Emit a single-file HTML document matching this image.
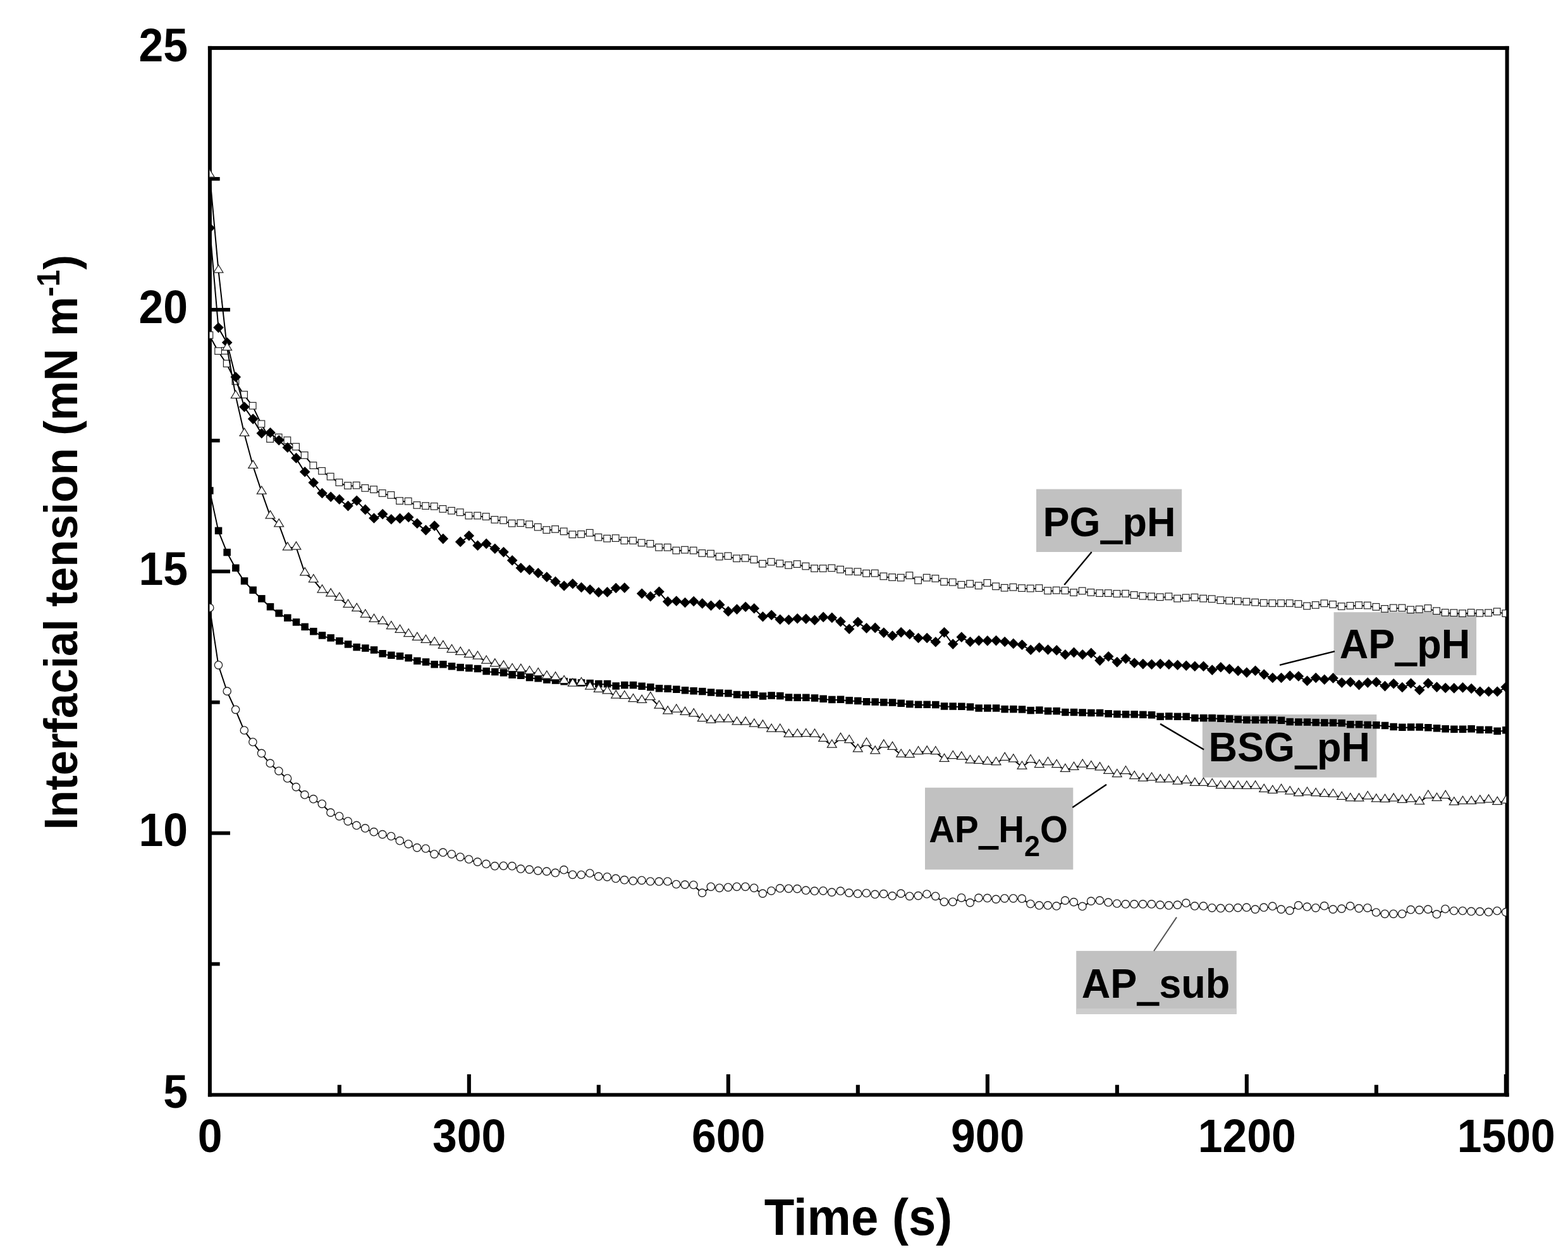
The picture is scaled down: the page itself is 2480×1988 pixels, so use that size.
<!DOCTYPE html>
<html lang="en"><head><meta charset="utf-8"><title>Interfacial tension vs time</title>
<style>
html,body{margin:0;padding:0;background:#fff;}
body{width:2480px;height:1988px;overflow:hidden;}
svg{display:block;}
text{font-family:"Liberation Sans",Arial,Helvetica,sans-serif;font-weight:bold;fill:#000;}
.tk{font-size:69.7px;}
.ln{fill:none;stroke:#000;stroke-width:2.0;stroke-linejoin:round;}
.osq{fill:#fff;stroke:#222;stroke-width:1.2;}
.tri{fill:#fff;stroke:#222;stroke-width:1.25;stroke-linejoin:miter;}
.cir{fill:#fff;stroke:#222;stroke-width:1.35;}
.blk{fill:#000;}
.us{stroke:#000;stroke-width:3.4px;stroke-linejoin:miter;}
</style></head><body>
<svg width="2480" height="1988" viewBox="0 0 2480 1988" role="img" aria-label="Interfacial tension versus time for PG_pH, AP_pH, BSG_pH, AP_H2O and AP_sub">
<rect x="0" y="0" width="2480" height="1988" fill="#fff"/>
<g fill="#000">
<rect x="328.90" y="72.90" width="6.00" height="1661.55"/>
<rect x="2380.60" y="72.90" width="6.00" height="1661.55"/>
<rect x="328.90" y="72.90" width="2057.70" height="6.00"/>
<rect x="328.90" y="1728.65" width="2057.70" height="5.80"/>
<rect x="738.79" y="1699.05" width="6.10" height="32.50"/>
<rect x="1148.79" y="1699.05" width="6.10" height="32.50"/>
<rect x="1558.79" y="1699.05" width="6.10" height="32.50"/>
<rect x="1968.79" y="1699.05" width="6.10" height="32.50"/>
<rect x="2378.79" y="1699.05" width="6.10" height="32.50"/>
<rect x="533.79" y="1715.75" width="6.10" height="15.80"/>
<rect x="943.79" y="1715.75" width="6.10" height="15.80"/>
<rect x="1353.79" y="1715.75" width="6.10" height="15.80"/>
<rect x="1763.79" y="1715.75" width="6.10" height="15.80"/>
<rect x="2173.79" y="1715.75" width="6.10" height="15.80"/>
<rect x="331.90" y="1314.76" width="32.10" height="5.75"/>
<rect x="331.90" y="900.85" width="32.10" height="5.75"/>
<rect x="331.90" y="486.94" width="32.10" height="5.75"/>
<rect x="331.90" y="1521.72" width="15.80" height="5.75"/>
<rect x="331.90" y="1107.81" width="15.80" height="5.75"/>
<rect x="331.90" y="693.89" width="15.80" height="5.75"/>
<rect x="331.90" y="279.98" width="15.80" height="5.75"/>
</g>
<g class="tk" text-anchor="middle">
<text transform="translate(332.2,1821.5) scale(1,1.06)">0</text>
<text transform="translate(742.2,1821.5) scale(1,1.06)">300</text>
<text transform="translate(1152.2,1821.5) scale(1,1.06)">600</text>
<text transform="translate(1562.2,1821.5) scale(1,1.06)">900</text>
<text transform="translate(1972.2,1821.5) scale(1,1.06)">1200</text>
<text transform="translate(2382.2,1821.5) scale(1,1.06)">1500</text>
</g>
<g class="tk" text-anchor="end">
<text transform="translate(297.0,1752.4) scale(1,1.06)">5</text>
<text transform="translate(297.0,1338.4) scale(1,1.06)">10</text>
<text transform="translate(297.0,924.5) scale(1,1.06)">15</text>
<text transform="translate(297.0,510.6) scale(1,1.06)">20</text>
<text transform="translate(297.0,96.7) scale(1,1.06)">25</text>
</g>
<text transform="translate(1357.5,1952.5) scale(1,1.04)" text-anchor="middle" font-size="78">Time (s)</text>
<text transform="translate(122.4,1312.5) rotate(-90) scale(1,1.04)" text-anchor="start" font-size="70.6">Interfacial tension (mN m<tspan font-size="48" dy="-27.5">-1</tspan><tspan dy="27.5">)</tspan></text>
<rect x="1639.0" y="773.6" width="230.2" height="99.4" fill="#c1c1c1"/>
<text transform="translate(1649.6,848.0) scale(1,1.04)" font-size="63">PG<tspan class="us" dx="1.7" dy="2.6" textLength="31.6" lengthAdjust="spacingAndGlyphs">_</tspan><tspan dx="1.7" dy="-2.6">pH</tspan></text>
<rect x="2109.6" y="968.2" width="225.5" height="99.6" fill="#c1c1c1"/>
<text transform="translate(2118.7,1041.4) scale(1,1.04)" font-size="63">AP<tspan class="us" dx="1.7" dy="2.6" textLength="31.6" lengthAdjust="spacingAndGlyphs">_</tspan><tspan dx="1.7" dy="-2.6">pH</tspan></text>
<rect x="1901.8" y="1130.0" width="275.5" height="99.6" fill="#c1c1c1"/>
<text transform="translate(1911.5,1203.9) scale(1,1.04)" font-size="63">BSG<tspan class="us" dx="1.7" dy="2.6" textLength="31.6" lengthAdjust="spacingAndGlyphs">_</tspan><tspan dx="1.7" dy="-2.6">pH</tspan></text>
<rect x="1463.0" y="1245.7" width="234.3" height="129.6" fill="#c1c1c1"/>
<text transform="translate(1469.3,1332.0) scale(1,1.04)" font-size="56.5">AP<tspan class="us" dx="1.7" dy="2.6" textLength="28.0" lengthAdjust="spacingAndGlyphs">_</tspan><tspan dx="1.7" dy="-2.6">H</tspan><tspan font-size="45" dy="21">2</tspan><tspan dy="-21">O</tspan></text>
<rect x="1702.2" y="1503.9" width="253.5" height="100.0" fill="#c1c1c1"/>
<rect x="1702.2" y="1595" width="253.5" height="8.9" fill="#cdcdcd"/>
<text transform="translate(1710.7,1578.0) scale(1,1.04)" font-size="63">AP<tspan class="us" dx="1.7" dy="2.6" textLength="31.6" lengthAdjust="spacingAndGlyphs">_</tspan><tspan dx="1.7" dy="-2.6">sub</tspan></text>
<g stroke="#000" stroke-width="2.4" stroke-linecap="butt">
<line x1="1726.6" y1="873" x2="1683.3" y2="925"/>
<line x1="2111" y1="1030.2" x2="2024" y2="1051.8"/>
<line x1="1835.1" y1="1144.9" x2="1904.1" y2="1185.5"/>
<line x1="1696.3" y1="1277" x2="1750" y2="1240.8"/>
</g>
<line x1="1861" y1="1450.6" x2="1825" y2="1504" stroke="#555" stroke-width="2"/>
<defs><clipPath id="pc"><rect x="331.50" y="75.90" width="2050.80" height="1655.65"/></clipPath></defs>
<g clip-path="url(#pc)">
<polyline class="ln" points="331.4,530.7 345.1,555.8 358.7,575.7 372.4,603.6 386.1,624.8 399.7,642.4 413.4,671.1 427.1,694.8 440.7,692.4 454.4,697.0 468.1,707.2 481.7,720.7 495.4,736.8 509.1,745.5 522.7,754.4 536.4,763.7 550.1,768.7 563.7,768.3 577.4,772.6 591.1,774.8 604.7,780.7 618.4,783.6 632.1,792.8 645.7,793.4 659.4,799.6 673.1,800.8 686.7,801.5 700.4,805.6 714.1,808.4 727.7,810.9 741.4,816.2 755.1,816.2 768.7,817.7 782.4,822.6 796.1,823.6 809.7,828.4 823.4,828.0 837.1,830.0 850.7,834.3 864.4,838.8 878.1,837.6 891.7,841.1 905.4,846.0 919.1,845.6 932.7,843.4 946.4,850.4 960.1,852.4 973.7,851.8 987.4,855.7 1001.1,855.7 1014.7,859.2 1028.4,860.6 1042.1,866.4 1055.7,866.4 1069.4,871.3 1083.1,870.3 1096.7,871.3 1110.4,875.6 1124.1,876.3 1137.7,881.0 1151.4,880.0 1165.1,883.9 1178.7,883.5 1192.4,885.8 1206.1,892.3 1219.7,889.3 1233.4,891.9 1247.1,894.6 1260.7,892.8 1274.4,896.2 1288.1,899.7 1301.7,899.7 1315.4,899.1 1329.1,901.4 1342.7,904.5 1356.4,904.9 1370.1,907.5 1383.7,907.3 1397.4,912.1 1411.1,913.7 1424.7,914.3 1438.4,910.8 1452.1,918.6 1465.7,914.3 1479.4,915.6 1493.1,920.9 1506.7,921.5 1520.4,925.5 1534.1,923.9 1547.7,926.9 1561.4,922.6 1575.1,928.0 1588.7,930.4 1602.4,929.4 1616.1,930.8 1629.7,931.3 1643.4,930.8 1657.1,934.9 1670.7,934.3 1684.4,934.7 1698.1,937.8 1711.7,935.2 1725.4,937.6 1739.1,938.8 1752.7,938.8 1766.4,939.7 1780.1,939.5 1793.7,941.7 1807.4,943.4 1821.1,944.0 1834.7,945.0 1848.4,944.0 1862.1,947.3 1875.7,946.0 1889.4,945.4 1903.1,947.3 1916.7,947.9 1930.4,949.9 1944.1,950.7 1957.7,951.5 1971.4,952.3 1985.1,953.3 1998.7,954.3 2012.4,954.7 2026.1,954.7 2039.7,954.7 2053.4,955.8 2067.1,959.1 2080.7,957.6 2094.4,954.9 2108.1,956.6 2121.7,959.7 2135.4,958.6 2149.1,957.8 2162.7,958.2 2176.4,960.5 2190.1,963.6 2203.7,962.1 2217.4,962.1 2231.1,965.0 2244.7,964.4 2258.4,962.6 2272.1,966.9 2285.7,969.5 2299.4,969.9 2313.1,970.8 2326.7,969.5 2340.4,970.4 2354.1,969.9 2367.7,967.9 2381.4,970.8"/>
<rect class="osq" x="350.4" y="549.5" width="10.60" height="10.60"/>
<rect class="osq" x="326.1" y="524.7" width="10.60" height="10.60"/>
<rect class="osq" x="339.8" y="549.8" width="10.60" height="10.60"/>
<rect class="osq" x="353.4" y="569.7" width="10.60" height="10.60"/>
<rect class="osq" x="367.1" y="597.6" width="10.60" height="10.60"/>
<rect class="osq" x="380.8" y="618.8" width="10.60" height="10.60"/>
<rect class="osq" x="394.4" y="636.4" width="10.60" height="10.60"/>
<rect class="osq" x="408.1" y="665.1" width="10.60" height="10.60"/>
<rect class="osq" x="421.8" y="688.8" width="10.60" height="10.60"/>
<rect class="osq" x="435.4" y="686.4" width="10.60" height="10.60"/>
<rect class="osq" x="449.1" y="691.0" width="10.60" height="10.60"/>
<rect class="osq" x="462.8" y="701.2" width="10.60" height="10.60"/>
<rect class="osq" x="476.4" y="714.7" width="10.60" height="10.60"/>
<rect class="osq" x="490.1" y="730.8" width="10.60" height="10.60"/>
<rect class="osq" x="503.8" y="739.5" width="10.60" height="10.60"/>
<rect class="osq" x="517.4" y="748.4" width="10.60" height="10.60"/>
<rect class="osq" x="531.1" y="757.7" width="10.60" height="10.60"/>
<rect class="osq" x="544.8" y="762.7" width="10.60" height="10.60"/>
<rect class="osq" x="558.4" y="762.3" width="10.60" height="10.60"/>
<rect class="osq" x="572.1" y="766.6" width="10.60" height="10.60"/>
<rect class="osq" x="585.8" y="768.8" width="10.60" height="10.60"/>
<rect class="osq" x="599.4" y="774.7" width="10.60" height="10.60"/>
<rect class="osq" x="613.1" y="777.6" width="10.60" height="10.60"/>
<rect class="osq" x="626.8" y="786.8" width="10.60" height="10.60"/>
<rect class="osq" x="640.4" y="787.4" width="10.60" height="10.60"/>
<rect class="osq" x="654.1" y="793.6" width="10.60" height="10.60"/>
<rect class="osq" x="667.8" y="794.8" width="10.60" height="10.60"/>
<rect class="osq" x="681.4" y="795.5" width="10.60" height="10.60"/>
<rect class="osq" x="695.1" y="799.6" width="10.60" height="10.60"/>
<rect class="osq" x="708.8" y="802.4" width="10.60" height="10.60"/>
<rect class="osq" x="722.4" y="804.9" width="10.60" height="10.60"/>
<rect class="osq" x="736.1" y="810.2" width="10.60" height="10.60"/>
<rect class="osq" x="749.8" y="810.2" width="10.60" height="10.60"/>
<rect class="osq" x="763.4" y="811.7" width="10.60" height="10.60"/>
<rect class="osq" x="777.1" y="816.6" width="10.60" height="10.60"/>
<rect class="osq" x="790.8" y="817.6" width="10.60" height="10.60"/>
<rect class="osq" x="804.4" y="822.4" width="10.60" height="10.60"/>
<rect class="osq" x="818.1" y="822.0" width="10.60" height="10.60"/>
<rect class="osq" x="831.8" y="824.0" width="10.60" height="10.60"/>
<rect class="osq" x="845.4" y="828.3" width="10.60" height="10.60"/>
<rect class="osq" x="859.1" y="832.8" width="10.60" height="10.60"/>
<rect class="osq" x="872.8" y="831.6" width="10.60" height="10.60"/>
<rect class="osq" x="886.4" y="835.1" width="10.60" height="10.60"/>
<rect class="osq" x="900.1" y="840.0" width="10.60" height="10.60"/>
<rect class="osq" x="913.8" y="839.6" width="10.60" height="10.60"/>
<rect class="osq" x="927.4" y="837.4" width="10.60" height="10.60"/>
<rect class="osq" x="941.1" y="844.4" width="10.60" height="10.60"/>
<rect class="osq" x="954.8" y="846.4" width="10.60" height="10.60"/>
<rect class="osq" x="968.4" y="845.8" width="10.60" height="10.60"/>
<rect class="osq" x="982.1" y="849.7" width="10.60" height="10.60"/>
<rect class="osq" x="995.8" y="849.7" width="10.60" height="10.60"/>
<rect class="osq" x="1009.4" y="853.2" width="10.60" height="10.60"/>
<rect class="osq" x="1023.1" y="854.6" width="10.60" height="10.60"/>
<rect class="osq" x="1036.8" y="860.4" width="10.60" height="10.60"/>
<rect class="osq" x="1050.4" y="860.4" width="10.60" height="10.60"/>
<rect class="osq" x="1064.1" y="865.3" width="10.60" height="10.60"/>
<rect class="osq" x="1077.8" y="864.3" width="10.60" height="10.60"/>
<rect class="osq" x="1091.4" y="865.3" width="10.60" height="10.60"/>
<rect class="osq" x="1105.1" y="869.6" width="10.60" height="10.60"/>
<rect class="osq" x="1118.8" y="870.3" width="10.60" height="10.60"/>
<rect class="osq" x="1132.4" y="875.0" width="10.60" height="10.60"/>
<rect class="osq" x="1146.1" y="874.0" width="10.60" height="10.60"/>
<rect class="osq" x="1159.8" y="877.9" width="10.60" height="10.60"/>
<rect class="osq" x="1173.4" y="877.5" width="10.60" height="10.60"/>
<rect class="osq" x="1187.1" y="879.8" width="10.60" height="10.60"/>
<rect class="osq" x="1200.8" y="886.3" width="10.60" height="10.60"/>
<rect class="osq" x="1214.4" y="883.3" width="10.60" height="10.60"/>
<rect class="osq" x="1228.1" y="885.9" width="10.60" height="10.60"/>
<rect class="osq" x="1241.8" y="888.6" width="10.60" height="10.60"/>
<rect class="osq" x="1255.4" y="886.8" width="10.60" height="10.60"/>
<rect class="osq" x="1269.1" y="890.2" width="10.60" height="10.60"/>
<rect class="osq" x="1282.8" y="893.7" width="10.60" height="10.60"/>
<rect class="osq" x="1296.4" y="893.7" width="10.60" height="10.60"/>
<rect class="osq" x="1310.1" y="893.1" width="10.60" height="10.60"/>
<rect class="osq" x="1323.8" y="895.4" width="10.60" height="10.60"/>
<rect class="osq" x="1337.4" y="898.5" width="10.60" height="10.60"/>
<rect class="osq" x="1351.1" y="898.9" width="10.60" height="10.60"/>
<rect class="osq" x="1364.8" y="901.5" width="10.60" height="10.60"/>
<rect class="osq" x="1378.4" y="901.3" width="10.60" height="10.60"/>
<rect class="osq" x="1392.1" y="906.1" width="10.60" height="10.60"/>
<rect class="osq" x="1405.8" y="907.7" width="10.60" height="10.60"/>
<rect class="osq" x="1419.4" y="908.3" width="10.60" height="10.60"/>
<rect class="osq" x="1433.1" y="904.8" width="10.60" height="10.60"/>
<rect class="osq" x="1446.8" y="912.6" width="10.60" height="10.60"/>
<rect class="osq" x="1460.4" y="908.3" width="10.60" height="10.60"/>
<rect class="osq" x="1474.1" y="909.6" width="10.60" height="10.60"/>
<rect class="osq" x="1487.8" y="914.9" width="10.60" height="10.60"/>
<rect class="osq" x="1501.4" y="915.5" width="10.60" height="10.60"/>
<rect class="osq" x="1515.1" y="919.5" width="10.60" height="10.60"/>
<rect class="osq" x="1528.8" y="917.9" width="10.60" height="10.60"/>
<rect class="osq" x="1542.4" y="920.9" width="10.60" height="10.60"/>
<rect class="osq" x="1556.1" y="916.6" width="10.60" height="10.60"/>
<rect class="osq" x="1569.8" y="922.0" width="10.60" height="10.60"/>
<rect class="osq" x="1583.4" y="924.4" width="10.60" height="10.60"/>
<rect class="osq" x="1597.1" y="923.4" width="10.60" height="10.60"/>
<rect class="osq" x="1610.8" y="924.8" width="10.60" height="10.60"/>
<rect class="osq" x="1624.4" y="925.3" width="10.60" height="10.60"/>
<rect class="osq" x="1638.1" y="924.8" width="10.60" height="10.60"/>
<rect class="osq" x="1651.8" y="928.9" width="10.60" height="10.60"/>
<rect class="osq" x="1665.4" y="928.3" width="10.60" height="10.60"/>
<rect class="osq" x="1679.1" y="928.7" width="10.60" height="10.60"/>
<rect class="osq" x="1692.8" y="931.8" width="10.60" height="10.60"/>
<rect class="osq" x="1706.4" y="929.2" width="10.60" height="10.60"/>
<rect class="osq" x="1720.1" y="931.6" width="10.60" height="10.60"/>
<rect class="osq" x="1733.8" y="932.8" width="10.60" height="10.60"/>
<rect class="osq" x="1747.4" y="932.8" width="10.60" height="10.60"/>
<rect class="osq" x="1761.1" y="933.7" width="10.60" height="10.60"/>
<rect class="osq" x="1774.8" y="933.5" width="10.60" height="10.60"/>
<rect class="osq" x="1788.4" y="935.7" width="10.60" height="10.60"/>
<rect class="osq" x="1802.1" y="937.4" width="10.60" height="10.60"/>
<rect class="osq" x="1815.8" y="938.0" width="10.60" height="10.60"/>
<rect class="osq" x="1829.4" y="939.0" width="10.60" height="10.60"/>
<rect class="osq" x="1843.1" y="938.0" width="10.60" height="10.60"/>
<rect class="osq" x="1856.8" y="941.3" width="10.60" height="10.60"/>
<rect class="osq" x="1870.4" y="940.0" width="10.60" height="10.60"/>
<rect class="osq" x="1884.1" y="939.4" width="10.60" height="10.60"/>
<rect class="osq" x="1897.8" y="941.3" width="10.60" height="10.60"/>
<rect class="osq" x="1911.4" y="941.9" width="10.60" height="10.60"/>
<rect class="osq" x="1925.1" y="943.9" width="10.60" height="10.60"/>
<rect class="osq" x="1938.8" y="944.7" width="10.60" height="10.60"/>
<rect class="osq" x="1952.4" y="945.5" width="10.60" height="10.60"/>
<rect class="osq" x="1966.1" y="946.3" width="10.60" height="10.60"/>
<rect class="osq" x="1979.8" y="947.3" width="10.60" height="10.60"/>
<rect class="osq" x="1993.4" y="948.3" width="10.60" height="10.60"/>
<rect class="osq" x="2007.1" y="948.7" width="10.60" height="10.60"/>
<rect class="osq" x="2020.8" y="948.7" width="10.60" height="10.60"/>
<rect class="osq" x="2034.4" y="948.7" width="10.60" height="10.60"/>
<rect class="osq" x="2048.1" y="949.8" width="10.60" height="10.60"/>
<rect class="osq" x="2061.8" y="953.1" width="10.60" height="10.60"/>
<rect class="osq" x="2075.4" y="951.6" width="10.60" height="10.60"/>
<rect class="osq" x="2089.1" y="948.9" width="10.60" height="10.60"/>
<rect class="osq" x="2102.8" y="950.6" width="10.60" height="10.60"/>
<rect class="osq" x="2116.4" y="953.7" width="10.60" height="10.60"/>
<rect class="osq" x="2130.1" y="952.6" width="10.60" height="10.60"/>
<rect class="osq" x="2143.8" y="951.8" width="10.60" height="10.60"/>
<rect class="osq" x="2157.4" y="952.2" width="10.60" height="10.60"/>
<rect class="osq" x="2171.1" y="954.5" width="10.60" height="10.60"/>
<rect class="osq" x="2184.8" y="957.6" width="10.60" height="10.60"/>
<rect class="osq" x="2198.4" y="956.1" width="10.60" height="10.60"/>
<rect class="osq" x="2212.1" y="956.1" width="10.60" height="10.60"/>
<rect class="osq" x="2225.8" y="959.0" width="10.60" height="10.60"/>
<rect class="osq" x="2239.4" y="958.4" width="10.60" height="10.60"/>
<rect class="osq" x="2253.1" y="956.6" width="10.60" height="10.60"/>
<rect class="osq" x="2266.8" y="960.9" width="10.60" height="10.60"/>
<rect class="osq" x="2280.4" y="963.5" width="10.60" height="10.60"/>
<rect class="osq" x="2294.1" y="963.9" width="10.60" height="10.60"/>
<rect class="osq" x="2307.8" y="964.8" width="10.60" height="10.60"/>
<rect class="osq" x="2321.4" y="963.5" width="10.60" height="10.60"/>
<rect class="osq" x="2335.1" y="964.4" width="10.60" height="10.60"/>
<rect class="osq" x="2348.8" y="963.9" width="10.60" height="10.60"/>
<rect class="osq" x="2362.4" y="961.9" width="10.60" height="10.60"/>
<rect class="osq" x="2376.1" y="964.8" width="10.60" height="10.60"/>
<polyline class="ln" points="331.8,361.1 345.5,518.8 359.2,542.4 372.8,597.0 386.5,644.2 400.2,663.3 413.8,685.9 427.5,685.0 441.2,697.0 454.8,708.5 468.5,725.1 482.2,747.0 495.8,764.0 509.5,780.7 523.2,786.5 536.8,790.4 550.5,800.8 564.2,792.4 577.8,806.6 591.5,820.2 605.2,813.8 618.8,822.0 632.5,820.6 646.2,818.7 659.8,828.4 673.5,839.1 687.2,832.3 700.8,852.8"/>
<polyline class="ln" points="728.2,857.6 741.8,847.9 755.5,863.5 769.2,860.6 782.8,868.4 796.5,873.8 810.2,886.9 823.8,898.9 837.5,901.9 851.2,906.9 864.8,913.2 878.5,920.6 892.2,927.2 905.8,923.9 919.5,929.7 933.2,933.2 946.8,937.5 960.5,937.1 974.2,930.7 987.8,930.3"/>
<polyline class="ln" points="1015.2,939.5 1028.8,943.9 1042.5,936.5 1056.2,952.1 1069.8,951.2 1083.5,953.7 1097.2,951.7 1110.8,955.1 1124.5,958.5 1138.2,957.1 1151.8,967.6 1165.5,964.3 1179.2,960.4 1192.8,963.0 1206.5,976.0 1220.2,973.5 1233.8,980.5 1247.5,980.9 1261.2,978.9 1274.8,979.5 1288.5,981.5 1302.2,976.6 1315.8,977.6 1329.5,983.8 1343.2,995.5 1356.8,984.4 1370.5,994.1 1384.2,993.6 1397.8,1001.3 1411.5,1006.2 1425.2,1000.8 1438.8,1003.7 1452.5,1009.7 1466.2,1009.7 1479.8,1016.0 1493.5,1000.8 1507.2,1019.3 1520.8,1008.3 1534.5,1015.7 1548.2,1013.8 1561.8,1014.1 1575.5,1013.8 1589.2,1015.7 1602.8,1018.6 1616.5,1020.4 1630.2,1028.4 1643.8,1024.9 1657.5,1028.2 1671.2,1029.1 1684.8,1036.0 1698.5,1032.6 1712.2,1036.0 1725.8,1033.6 1739.5,1045.3 1753.2,1038.9 1766.8,1047.8 1780.5,1042.4 1794.2,1049.2 1807.8,1050.8 1821.5,1051.5 1835.2,1050.8 1848.8,1051.5 1862.5,1052.5 1876.2,1053.5 1889.8,1054.5 1903.5,1054.5 1917.2,1060.3 1930.8,1056.0 1944.5,1058.8 1958.2,1061.6 1971.8,1064.3 1985.5,1061.4 1999.2,1067.3 2012.8,1072.7 2026.5,1072.7 2040.2,1069.6 2053.8,1070.2 2067.5,1077.4 2081.2,1072.7 2094.8,1075.4 2108.5,1073.1 2122.2,1080.3 2135.8,1079.5 2149.5,1083.8 2163.2,1080.3 2176.8,1079.5 2190.5,1085.8 2204.2,1081.9 2217.8,1087.7 2231.5,1081.5 2245.2,1092.0 2258.8,1081.3 2272.5,1087.3 2286.2,1088.7 2299.8,1089.1 2313.5,1088.1 2327.2,1089.7 2340.8,1094.5 2354.5,1094.5 2368.2,1094.5 2381.8,1087.3"/>
<path class="blk" d="M331.8 352.1l8.3 8.3l-8.3 8.3l-8.3 -8.3z"/>
<path class="blk" d="M345.5 509.8l8.3 8.3l-8.3 8.3l-8.3 -8.3z"/>
<path class="blk" d="M359.2 533.4l8.3 8.3l-8.3 8.3l-8.3 -8.3z"/>
<path class="blk" d="M372.8 588.0l8.3 8.3l-8.3 8.3l-8.3 -8.3z"/>
<path class="blk" d="M386.5 635.2l8.3 8.3l-8.3 8.3l-8.3 -8.3z"/>
<path class="blk" d="M400.2 654.3l8.3 8.3l-8.3 8.3l-8.3 -8.3z"/>
<path class="blk" d="M413.8 676.9l8.3 8.3l-8.3 8.3l-8.3 -8.3z"/>
<path class="blk" d="M427.5 676.0l8.3 8.3l-8.3 8.3l-8.3 -8.3z"/>
<path class="blk" d="M441.2 688.0l8.3 8.3l-8.3 8.3l-8.3 -8.3z"/>
<path class="blk" d="M454.8 699.5l8.3 8.3l-8.3 8.3l-8.3 -8.3z"/>
<path class="blk" d="M468.5 716.1l8.3 8.3l-8.3 8.3l-8.3 -8.3z"/>
<path class="blk" d="M482.2 738.0l8.3 8.3l-8.3 8.3l-8.3 -8.3z"/>
<path class="blk" d="M495.8 755.0l8.3 8.3l-8.3 8.3l-8.3 -8.3z"/>
<path class="blk" d="M509.5 771.7l8.3 8.3l-8.3 8.3l-8.3 -8.3z"/>
<path class="blk" d="M523.2 777.5l8.3 8.3l-8.3 8.3l-8.3 -8.3z"/>
<path class="blk" d="M536.8 781.4l8.3 8.3l-8.3 8.3l-8.3 -8.3z"/>
<path class="blk" d="M550.5 791.8l8.3 8.3l-8.3 8.3l-8.3 -8.3z"/>
<path class="blk" d="M564.2 783.4l8.3 8.3l-8.3 8.3l-8.3 -8.3z"/>
<path class="blk" d="M577.8 797.6l8.3 8.3l-8.3 8.3l-8.3 -8.3z"/>
<path class="blk" d="M591.5 811.2l8.3 8.3l-8.3 8.3l-8.3 -8.3z"/>
<path class="blk" d="M605.2 804.8l8.3 8.3l-8.3 8.3l-8.3 -8.3z"/>
<path class="blk" d="M618.8 813.0l8.3 8.3l-8.3 8.3l-8.3 -8.3z"/>
<path class="blk" d="M632.5 811.6l8.3 8.3l-8.3 8.3l-8.3 -8.3z"/>
<path class="blk" d="M646.2 809.7l8.3 8.3l-8.3 8.3l-8.3 -8.3z"/>
<path class="blk" d="M659.8 819.4l8.3 8.3l-8.3 8.3l-8.3 -8.3z"/>
<path class="blk" d="M673.5 830.1l8.3 8.3l-8.3 8.3l-8.3 -8.3z"/>
<path class="blk" d="M687.2 823.3l8.3 8.3l-8.3 8.3l-8.3 -8.3z"/>
<path class="blk" d="M700.8 843.8l8.3 8.3l-8.3 8.3l-8.3 -8.3z"/>
<path class="blk" d="M728.2 848.6l8.3 8.3l-8.3 8.3l-8.3 -8.3z"/>
<path class="blk" d="M741.8 838.9l8.3 8.3l-8.3 8.3l-8.3 -8.3z"/>
<path class="blk" d="M755.5 854.5l8.3 8.3l-8.3 8.3l-8.3 -8.3z"/>
<path class="blk" d="M769.2 851.6l8.3 8.3l-8.3 8.3l-8.3 -8.3z"/>
<path class="blk" d="M782.8 859.4l8.3 8.3l-8.3 8.3l-8.3 -8.3z"/>
<path class="blk" d="M796.5 864.8l8.3 8.3l-8.3 8.3l-8.3 -8.3z"/>
<path class="blk" d="M810.2 877.9l8.3 8.3l-8.3 8.3l-8.3 -8.3z"/>
<path class="blk" d="M823.8 889.9l8.3 8.3l-8.3 8.3l-8.3 -8.3z"/>
<path class="blk" d="M837.5 892.9l8.3 8.3l-8.3 8.3l-8.3 -8.3z"/>
<path class="blk" d="M851.2 897.9l8.3 8.3l-8.3 8.3l-8.3 -8.3z"/>
<path class="blk" d="M864.8 904.2l8.3 8.3l-8.3 8.3l-8.3 -8.3z"/>
<path class="blk" d="M878.5 911.6l8.3 8.3l-8.3 8.3l-8.3 -8.3z"/>
<path class="blk" d="M892.2 918.2l8.3 8.3l-8.3 8.3l-8.3 -8.3z"/>
<path class="blk" d="M905.8 914.9l8.3 8.3l-8.3 8.3l-8.3 -8.3z"/>
<path class="blk" d="M919.5 920.7l8.3 8.3l-8.3 8.3l-8.3 -8.3z"/>
<path class="blk" d="M933.2 924.2l8.3 8.3l-8.3 8.3l-8.3 -8.3z"/>
<path class="blk" d="M946.8 928.5l8.3 8.3l-8.3 8.3l-8.3 -8.3z"/>
<path class="blk" d="M960.5 928.1l8.3 8.3l-8.3 8.3l-8.3 -8.3z"/>
<path class="blk" d="M974.2 921.7l8.3 8.3l-8.3 8.3l-8.3 -8.3z"/>
<path class="blk" d="M987.8 921.3l8.3 8.3l-8.3 8.3l-8.3 -8.3z"/>
<path class="blk" d="M1015.2 930.5l8.3 8.3l-8.3 8.3l-8.3 -8.3z"/>
<path class="blk" d="M1028.8 934.9l8.3 8.3l-8.3 8.3l-8.3 -8.3z"/>
<path class="blk" d="M1042.5 927.5l8.3 8.3l-8.3 8.3l-8.3 -8.3z"/>
<path class="blk" d="M1056.2 943.1l8.3 8.3l-8.3 8.3l-8.3 -8.3z"/>
<path class="blk" d="M1069.8 942.2l8.3 8.3l-8.3 8.3l-8.3 -8.3z"/>
<path class="blk" d="M1083.5 944.7l8.3 8.3l-8.3 8.3l-8.3 -8.3z"/>
<path class="blk" d="M1097.2 942.7l8.3 8.3l-8.3 8.3l-8.3 -8.3z"/>
<path class="blk" d="M1110.8 946.1l8.3 8.3l-8.3 8.3l-8.3 -8.3z"/>
<path class="blk" d="M1124.5 949.5l8.3 8.3l-8.3 8.3l-8.3 -8.3z"/>
<path class="blk" d="M1138.2 948.1l8.3 8.3l-8.3 8.3l-8.3 -8.3z"/>
<path class="blk" d="M1151.8 958.6l8.3 8.3l-8.3 8.3l-8.3 -8.3z"/>
<path class="blk" d="M1165.5 955.3l8.3 8.3l-8.3 8.3l-8.3 -8.3z"/>
<path class="blk" d="M1179.2 951.4l8.3 8.3l-8.3 8.3l-8.3 -8.3z"/>
<path class="blk" d="M1192.8 954.0l8.3 8.3l-8.3 8.3l-8.3 -8.3z"/>
<path class="blk" d="M1206.5 967.0l8.3 8.3l-8.3 8.3l-8.3 -8.3z"/>
<path class="blk" d="M1220.2 964.5l8.3 8.3l-8.3 8.3l-8.3 -8.3z"/>
<path class="blk" d="M1233.8 971.5l8.3 8.3l-8.3 8.3l-8.3 -8.3z"/>
<path class="blk" d="M1247.5 971.9l8.3 8.3l-8.3 8.3l-8.3 -8.3z"/>
<path class="blk" d="M1261.2 969.9l8.3 8.3l-8.3 8.3l-8.3 -8.3z"/>
<path class="blk" d="M1274.8 970.5l8.3 8.3l-8.3 8.3l-8.3 -8.3z"/>
<path class="blk" d="M1288.5 972.5l8.3 8.3l-8.3 8.3l-8.3 -8.3z"/>
<path class="blk" d="M1302.2 967.6l8.3 8.3l-8.3 8.3l-8.3 -8.3z"/>
<path class="blk" d="M1315.8 968.6l8.3 8.3l-8.3 8.3l-8.3 -8.3z"/>
<path class="blk" d="M1329.5 974.8l8.3 8.3l-8.3 8.3l-8.3 -8.3z"/>
<path class="blk" d="M1343.2 986.5l8.3 8.3l-8.3 8.3l-8.3 -8.3z"/>
<path class="blk" d="M1356.8 975.4l8.3 8.3l-8.3 8.3l-8.3 -8.3z"/>
<path class="blk" d="M1370.5 985.1l8.3 8.3l-8.3 8.3l-8.3 -8.3z"/>
<path class="blk" d="M1384.2 984.6l8.3 8.3l-8.3 8.3l-8.3 -8.3z"/>
<path class="blk" d="M1397.8 992.3l8.3 8.3l-8.3 8.3l-8.3 -8.3z"/>
<path class="blk" d="M1411.5 997.2l8.3 8.3l-8.3 8.3l-8.3 -8.3z"/>
<path class="blk" d="M1425.2 991.8l8.3 8.3l-8.3 8.3l-8.3 -8.3z"/>
<path class="blk" d="M1438.8 994.7l8.3 8.3l-8.3 8.3l-8.3 -8.3z"/>
<path class="blk" d="M1452.5 1000.7l8.3 8.3l-8.3 8.3l-8.3 -8.3z"/>
<path class="blk" d="M1466.2 1000.7l8.3 8.3l-8.3 8.3l-8.3 -8.3z"/>
<path class="blk" d="M1479.8 1007.0l8.3 8.3l-8.3 8.3l-8.3 -8.3z"/>
<path class="blk" d="M1493.5 991.8l8.3 8.3l-8.3 8.3l-8.3 -8.3z"/>
<path class="blk" d="M1507.2 1010.3l8.3 8.3l-8.3 8.3l-8.3 -8.3z"/>
<path class="blk" d="M1520.8 999.3l8.3 8.3l-8.3 8.3l-8.3 -8.3z"/>
<path class="blk" d="M1534.5 1006.7l8.3 8.3l-8.3 8.3l-8.3 -8.3z"/>
<path class="blk" d="M1548.2 1004.8l8.3 8.3l-8.3 8.3l-8.3 -8.3z"/>
<path class="blk" d="M1561.8 1005.1l8.3 8.3l-8.3 8.3l-8.3 -8.3z"/>
<path class="blk" d="M1575.5 1004.8l8.3 8.3l-8.3 8.3l-8.3 -8.3z"/>
<path class="blk" d="M1589.2 1006.7l8.3 8.3l-8.3 8.3l-8.3 -8.3z"/>
<path class="blk" d="M1602.8 1009.6l8.3 8.3l-8.3 8.3l-8.3 -8.3z"/>
<path class="blk" d="M1616.5 1011.4l8.3 8.3l-8.3 8.3l-8.3 -8.3z"/>
<path class="blk" d="M1630.2 1019.4l8.3 8.3l-8.3 8.3l-8.3 -8.3z"/>
<path class="blk" d="M1643.8 1015.9l8.3 8.3l-8.3 8.3l-8.3 -8.3z"/>
<path class="blk" d="M1657.5 1019.2l8.3 8.3l-8.3 8.3l-8.3 -8.3z"/>
<path class="blk" d="M1671.2 1020.1l8.3 8.3l-8.3 8.3l-8.3 -8.3z"/>
<path class="blk" d="M1684.8 1027.0l8.3 8.3l-8.3 8.3l-8.3 -8.3z"/>
<path class="blk" d="M1698.5 1023.6l8.3 8.3l-8.3 8.3l-8.3 -8.3z"/>
<path class="blk" d="M1712.2 1027.0l8.3 8.3l-8.3 8.3l-8.3 -8.3z"/>
<path class="blk" d="M1725.8 1024.6l8.3 8.3l-8.3 8.3l-8.3 -8.3z"/>
<path class="blk" d="M1739.5 1036.3l8.3 8.3l-8.3 8.3l-8.3 -8.3z"/>
<path class="blk" d="M1753.2 1029.9l8.3 8.3l-8.3 8.3l-8.3 -8.3z"/>
<path class="blk" d="M1766.8 1038.8l8.3 8.3l-8.3 8.3l-8.3 -8.3z"/>
<path class="blk" d="M1780.5 1033.4l8.3 8.3l-8.3 8.3l-8.3 -8.3z"/>
<path class="blk" d="M1794.2 1040.2l8.3 8.3l-8.3 8.3l-8.3 -8.3z"/>
<path class="blk" d="M1807.8 1041.8l8.3 8.3l-8.3 8.3l-8.3 -8.3z"/>
<path class="blk" d="M1821.5 1042.5l8.3 8.3l-8.3 8.3l-8.3 -8.3z"/>
<path class="blk" d="M1835.2 1041.8l8.3 8.3l-8.3 8.3l-8.3 -8.3z"/>
<path class="blk" d="M1848.8 1042.5l8.3 8.3l-8.3 8.3l-8.3 -8.3z"/>
<path class="blk" d="M1862.5 1043.5l8.3 8.3l-8.3 8.3l-8.3 -8.3z"/>
<path class="blk" d="M1876.2 1044.5l8.3 8.3l-8.3 8.3l-8.3 -8.3z"/>
<path class="blk" d="M1889.8 1045.5l8.3 8.3l-8.3 8.3l-8.3 -8.3z"/>
<path class="blk" d="M1903.5 1045.5l8.3 8.3l-8.3 8.3l-8.3 -8.3z"/>
<path class="blk" d="M1917.2 1051.3l8.3 8.3l-8.3 8.3l-8.3 -8.3z"/>
<path class="blk" d="M1930.8 1047.0l8.3 8.3l-8.3 8.3l-8.3 -8.3z"/>
<path class="blk" d="M1944.5 1049.8l8.3 8.3l-8.3 8.3l-8.3 -8.3z"/>
<path class="blk" d="M1958.2 1052.6l8.3 8.3l-8.3 8.3l-8.3 -8.3z"/>
<path class="blk" d="M1971.8 1055.3l8.3 8.3l-8.3 8.3l-8.3 -8.3z"/>
<path class="blk" d="M1985.5 1052.4l8.3 8.3l-8.3 8.3l-8.3 -8.3z"/>
<path class="blk" d="M1999.2 1058.3l8.3 8.3l-8.3 8.3l-8.3 -8.3z"/>
<path class="blk" d="M2012.8 1063.7l8.3 8.3l-8.3 8.3l-8.3 -8.3z"/>
<path class="blk" d="M2026.5 1063.7l8.3 8.3l-8.3 8.3l-8.3 -8.3z"/>
<path class="blk" d="M2040.2 1060.6l8.3 8.3l-8.3 8.3l-8.3 -8.3z"/>
<path class="blk" d="M2053.8 1061.2l8.3 8.3l-8.3 8.3l-8.3 -8.3z"/>
<path class="blk" d="M2067.5 1068.4l8.3 8.3l-8.3 8.3l-8.3 -8.3z"/>
<path class="blk" d="M2081.2 1063.7l8.3 8.3l-8.3 8.3l-8.3 -8.3z"/>
<path class="blk" d="M2094.8 1066.4l8.3 8.3l-8.3 8.3l-8.3 -8.3z"/>
<path class="blk" d="M2108.5 1064.1l8.3 8.3l-8.3 8.3l-8.3 -8.3z"/>
<path class="blk" d="M2122.2 1071.3l8.3 8.3l-8.3 8.3l-8.3 -8.3z"/>
<path class="blk" d="M2135.8 1070.5l8.3 8.3l-8.3 8.3l-8.3 -8.3z"/>
<path class="blk" d="M2149.5 1074.8l8.3 8.3l-8.3 8.3l-8.3 -8.3z"/>
<path class="blk" d="M2163.2 1071.3l8.3 8.3l-8.3 8.3l-8.3 -8.3z"/>
<path class="blk" d="M2176.8 1070.5l8.3 8.3l-8.3 8.3l-8.3 -8.3z"/>
<path class="blk" d="M2190.5 1076.8l8.3 8.3l-8.3 8.3l-8.3 -8.3z"/>
<path class="blk" d="M2204.2 1072.9l8.3 8.3l-8.3 8.3l-8.3 -8.3z"/>
<path class="blk" d="M2217.8 1078.7l8.3 8.3l-8.3 8.3l-8.3 -8.3z"/>
<path class="blk" d="M2231.5 1072.5l8.3 8.3l-8.3 8.3l-8.3 -8.3z"/>
<path class="blk" d="M2245.2 1083.0l8.3 8.3l-8.3 8.3l-8.3 -8.3z"/>
<path class="blk" d="M2258.8 1072.3l8.3 8.3l-8.3 8.3l-8.3 -8.3z"/>
<path class="blk" d="M2272.5 1078.3l8.3 8.3l-8.3 8.3l-8.3 -8.3z"/>
<path class="blk" d="M2286.2 1079.7l8.3 8.3l-8.3 8.3l-8.3 -8.3z"/>
<path class="blk" d="M2299.8 1080.1l8.3 8.3l-8.3 8.3l-8.3 -8.3z"/>
<path class="blk" d="M2313.5 1079.1l8.3 8.3l-8.3 8.3l-8.3 -8.3z"/>
<path class="blk" d="M2327.2 1080.7l8.3 8.3l-8.3 8.3l-8.3 -8.3z"/>
<path class="blk" d="M2340.8 1085.5l8.3 8.3l-8.3 8.3l-8.3 -8.3z"/>
<path class="blk" d="M2354.5 1085.5l8.3 8.3l-8.3 8.3l-8.3 -8.3z"/>
<path class="blk" d="M2368.2 1085.5l8.3 8.3l-8.3 8.3l-8.3 -8.3z"/>
<path class="blk" d="M2381.8 1078.3l8.3 8.3l-8.3 8.3l-8.3 -8.3z"/>
<polyline class="ln" points="331.8,776.7 345.5,840.1 359.2,874.2 372.8,898.9 386.5,919.6 400.2,934.0 413.8,947.6 427.5,960.3 441.2,970.6 454.8,977.8 468.5,984.7 482.2,992.1 495.8,999.3 509.5,1005.7 523.2,1009.6 536.8,1014.5 550.5,1019.7 564.2,1024.2 577.8,1025.8 591.5,1028.7 605.2,1034.5 618.8,1036.9 632.5,1038.4 646.2,1041.2 659.8,1046.0 673.5,1047.6 687.2,1051.5 700.8,1051.5 714.5,1054.4 728.2,1056.3 741.8,1057.3 755.5,1058.3 769.2,1062.2 782.8,1063.2 796.5,1064.7 810.2,1068.0 823.8,1069.0 837.5,1072.3 851.2,1073.5 864.8,1075.8 878.5,1076.8 892.2,1078.4 905.8,1079.7 919.5,1080.7 933.2,1081.3 946.8,1082.3 960.5,1082.3 974.2,1085.6 987.8,1084.2 1001.5,1084.2 1015.2,1086.0 1028.8,1087.5 1042.5,1089.5 1056.2,1089.9 1069.8,1091.0 1083.5,1092.4 1097.2,1093.4 1110.8,1094.3 1124.5,1095.8 1138.2,1096.8 1151.8,1097.2 1165.5,1099.3 1179.2,1099.7 1192.8,1099.3 1206.5,1101.7 1220.2,1100.7 1233.8,1101.3 1247.5,1103.6 1261.2,1104.0 1274.8,1104.0 1288.5,1104.6 1302.2,1106.0 1315.8,1107.1 1329.5,1106.9 1343.2,1108.5 1356.8,1109.1 1370.5,1110.4 1384.2,1110.8 1397.8,1111.4 1411.5,1111.8 1425.2,1113.0 1438.8,1114.3 1452.5,1114.9 1466.2,1114.9 1479.8,1115.3 1493.5,1117.6 1507.2,1117.8 1520.8,1118.0 1534.5,1118.8 1548.2,1120.7 1561.8,1120.7 1575.5,1120.7 1589.2,1122.3 1602.8,1122.3 1616.5,1122.6 1630.2,1124.2 1643.8,1123.8 1657.5,1125.2 1671.2,1125.2 1684.8,1127.1 1698.5,1127.1 1712.2,1127.7 1725.8,1128.1 1739.5,1128.1 1753.2,1129.5 1766.8,1130.1 1780.5,1130.4 1794.2,1130.4 1807.8,1131.0 1821.5,1131.4 1835.2,1133.9 1848.8,1133.4 1862.5,1133.9 1876.2,1133.9 1889.8,1136.3 1903.5,1136.3 1917.2,1136.3 1930.8,1136.9 1944.5,1137.7 1958.2,1138.5 1971.8,1139.3 1985.5,1139.3 1999.2,1139.3 2012.8,1139.3 2026.5,1139.9 2040.2,1142.3 2053.8,1142.6 2067.5,1142.8 2081.2,1143.2 2094.8,1143.6 2108.5,1143.8 2122.2,1144.2 2135.8,1146.5 2149.5,1146.5 2163.2,1147.1 2176.8,1147.5 2190.5,1148.1 2204.2,1150.1 2217.8,1151.0 2231.5,1150.6 2245.2,1150.6 2258.8,1151.4 2272.5,1152.4 2286.2,1153.4 2299.8,1153.9 2313.5,1153.9 2327.2,1153.4 2340.8,1154.9 2354.5,1154.9 2368.2,1156.9 2381.8,1155.5"/>
<rect class="blk" x="326.1" y="770.2" width="11.5" height="11.5"/>
<rect class="blk" x="339.8" y="833.6" width="11.5" height="11.5"/>
<rect class="blk" x="353.4" y="867.8" width="11.5" height="11.5"/>
<rect class="blk" x="367.1" y="892.5" width="11.5" height="11.5"/>
<rect class="blk" x="380.8" y="913.1" width="11.5" height="11.5"/>
<rect class="blk" x="394.4" y="927.5" width="11.5" height="11.5"/>
<rect class="blk" x="408.1" y="941.1" width="11.5" height="11.5"/>
<rect class="blk" x="421.8" y="953.9" width="11.5" height="11.5"/>
<rect class="blk" x="435.4" y="964.1" width="11.5" height="11.5"/>
<rect class="blk" x="449.1" y="971.4" width="11.5" height="11.5"/>
<rect class="blk" x="462.8" y="978.2" width="11.5" height="11.5"/>
<rect class="blk" x="476.4" y="985.6" width="11.5" height="11.5"/>
<rect class="blk" x="490.1" y="992.9" width="11.5" height="11.5"/>
<rect class="blk" x="503.8" y="999.2" width="11.5" height="11.5"/>
<rect class="blk" x="517.4" y="1003.1" width="11.5" height="11.5"/>
<rect class="blk" x="531.1" y="1008.0" width="11.5" height="11.5"/>
<rect class="blk" x="544.8" y="1013.2" width="11.5" height="11.5"/>
<rect class="blk" x="558.4" y="1017.8" width="11.5" height="11.5"/>
<rect class="blk" x="572.1" y="1019.3" width="11.5" height="11.5"/>
<rect class="blk" x="585.8" y="1022.2" width="11.5" height="11.5"/>
<rect class="blk" x="599.4" y="1028.0" width="11.5" height="11.5"/>
<rect class="blk" x="613.1" y="1030.5" width="11.5" height="11.5"/>
<rect class="blk" x="626.8" y="1032.0" width="11.5" height="11.5"/>
<rect class="blk" x="640.4" y="1034.8" width="11.5" height="11.5"/>
<rect class="blk" x="654.1" y="1039.5" width="11.5" height="11.5"/>
<rect class="blk" x="667.8" y="1041.2" width="11.5" height="11.5"/>
<rect class="blk" x="681.4" y="1045.0" width="11.5" height="11.5"/>
<rect class="blk" x="695.1" y="1045.0" width="11.5" height="11.5"/>
<rect class="blk" x="708.8" y="1048.0" width="11.5" height="11.5"/>
<rect class="blk" x="722.4" y="1049.8" width="11.5" height="11.5"/>
<rect class="blk" x="736.1" y="1050.8" width="11.5" height="11.5"/>
<rect class="blk" x="749.8" y="1051.8" width="11.5" height="11.5"/>
<rect class="blk" x="763.4" y="1055.8" width="11.5" height="11.5"/>
<rect class="blk" x="777.1" y="1056.8" width="11.5" height="11.5"/>
<rect class="blk" x="790.8" y="1058.2" width="11.5" height="11.5"/>
<rect class="blk" x="804.4" y="1061.5" width="11.5" height="11.5"/>
<rect class="blk" x="818.1" y="1062.5" width="11.5" height="11.5"/>
<rect class="blk" x="831.8" y="1065.8" width="11.5" height="11.5"/>
<rect class="blk" x="845.4" y="1067.0" width="11.5" height="11.5"/>
<rect class="blk" x="859.1" y="1069.3" width="11.5" height="11.5"/>
<rect class="blk" x="872.8" y="1070.3" width="11.5" height="11.5"/>
<rect class="blk" x="886.4" y="1072.0" width="11.5" height="11.5"/>
<rect class="blk" x="900.1" y="1073.2" width="11.5" height="11.5"/>
<rect class="blk" x="913.8" y="1074.2" width="11.5" height="11.5"/>
<rect class="blk" x="927.4" y="1074.8" width="11.5" height="11.5"/>
<rect class="blk" x="941.1" y="1075.8" width="11.5" height="11.5"/>
<rect class="blk" x="954.8" y="1075.8" width="11.5" height="11.5"/>
<rect class="blk" x="968.4" y="1079.2" width="11.5" height="11.5"/>
<rect class="blk" x="982.1" y="1077.8" width="11.5" height="11.5"/>
<rect class="blk" x="995.8" y="1077.8" width="11.5" height="11.5"/>
<rect class="blk" x="1009.4" y="1079.5" width="11.5" height="11.5"/>
<rect class="blk" x="1023.1" y="1081.0" width="11.5" height="11.5"/>
<rect class="blk" x="1036.8" y="1083.0" width="11.5" height="11.5"/>
<rect class="blk" x="1050.4" y="1083.5" width="11.5" height="11.5"/>
<rect class="blk" x="1064.1" y="1084.5" width="11.5" height="11.5"/>
<rect class="blk" x="1077.8" y="1086.0" width="11.5" height="11.5"/>
<rect class="blk" x="1091.4" y="1087.0" width="11.5" height="11.5"/>
<rect class="blk" x="1105.1" y="1087.8" width="11.5" height="11.5"/>
<rect class="blk" x="1118.8" y="1089.3" width="11.5" height="11.5"/>
<rect class="blk" x="1132.4" y="1090.3" width="11.5" height="11.5"/>
<rect class="blk" x="1146.1" y="1090.8" width="11.5" height="11.5"/>
<rect class="blk" x="1159.8" y="1092.8" width="11.5" height="11.5"/>
<rect class="blk" x="1173.4" y="1093.2" width="11.5" height="11.5"/>
<rect class="blk" x="1187.1" y="1092.8" width="11.5" height="11.5"/>
<rect class="blk" x="1200.8" y="1095.2" width="11.5" height="11.5"/>
<rect class="blk" x="1214.4" y="1094.2" width="11.5" height="11.5"/>
<rect class="blk" x="1228.1" y="1094.8" width="11.5" height="11.5"/>
<rect class="blk" x="1241.8" y="1097.2" width="11.5" height="11.5"/>
<rect class="blk" x="1255.4" y="1097.5" width="11.5" height="11.5"/>
<rect class="blk" x="1269.1" y="1097.5" width="11.5" height="11.5"/>
<rect class="blk" x="1282.8" y="1098.2" width="11.5" height="11.5"/>
<rect class="blk" x="1296.4" y="1099.5" width="11.5" height="11.5"/>
<rect class="blk" x="1310.1" y="1100.7" width="11.5" height="11.5"/>
<rect class="blk" x="1323.8" y="1100.5" width="11.5" height="11.5"/>
<rect class="blk" x="1337.4" y="1102.0" width="11.5" height="11.5"/>
<rect class="blk" x="1351.1" y="1102.7" width="11.5" height="11.5"/>
<rect class="blk" x="1364.8" y="1104.0" width="11.5" height="11.5"/>
<rect class="blk" x="1378.4" y="1104.3" width="11.5" height="11.5"/>
<rect class="blk" x="1392.1" y="1105.0" width="11.5" height="11.5"/>
<rect class="blk" x="1405.8" y="1105.3" width="11.5" height="11.5"/>
<rect class="blk" x="1419.4" y="1106.5" width="11.5" height="11.5"/>
<rect class="blk" x="1433.1" y="1107.8" width="11.5" height="11.5"/>
<rect class="blk" x="1446.8" y="1108.5" width="11.5" height="11.5"/>
<rect class="blk" x="1460.4" y="1108.5" width="11.5" height="11.5"/>
<rect class="blk" x="1474.1" y="1108.8" width="11.5" height="11.5"/>
<rect class="blk" x="1487.8" y="1111.2" width="11.5" height="11.5"/>
<rect class="blk" x="1501.4" y="1111.3" width="11.5" height="11.5"/>
<rect class="blk" x="1515.1" y="1111.5" width="11.5" height="11.5"/>
<rect class="blk" x="1528.8" y="1112.3" width="11.5" height="11.5"/>
<rect class="blk" x="1542.4" y="1114.2" width="11.5" height="11.5"/>
<rect class="blk" x="1556.1" y="1114.2" width="11.5" height="11.5"/>
<rect class="blk" x="1569.8" y="1114.2" width="11.5" height="11.5"/>
<rect class="blk" x="1583.4" y="1115.8" width="11.5" height="11.5"/>
<rect class="blk" x="1597.1" y="1115.8" width="11.5" height="11.5"/>
<rect class="blk" x="1610.8" y="1116.2" width="11.5" height="11.5"/>
<rect class="blk" x="1624.4" y="1117.8" width="11.5" height="11.5"/>
<rect class="blk" x="1638.1" y="1117.3" width="11.5" height="11.5"/>
<rect class="blk" x="1651.8" y="1118.8" width="11.5" height="11.5"/>
<rect class="blk" x="1665.4" y="1118.8" width="11.5" height="11.5"/>
<rect class="blk" x="1679.1" y="1120.7" width="11.5" height="11.5"/>
<rect class="blk" x="1692.8" y="1120.7" width="11.5" height="11.5"/>
<rect class="blk" x="1706.4" y="1121.2" width="11.5" height="11.5"/>
<rect class="blk" x="1720.1" y="1121.7" width="11.5" height="11.5"/>
<rect class="blk" x="1733.8" y="1121.7" width="11.5" height="11.5"/>
<rect class="blk" x="1747.4" y="1123.0" width="11.5" height="11.5"/>
<rect class="blk" x="1761.1" y="1123.7" width="11.5" height="11.5"/>
<rect class="blk" x="1774.8" y="1124.0" width="11.5" height="11.5"/>
<rect class="blk" x="1788.4" y="1124.0" width="11.5" height="11.5"/>
<rect class="blk" x="1802.1" y="1124.5" width="11.5" height="11.5"/>
<rect class="blk" x="1815.8" y="1125.0" width="11.5" height="11.5"/>
<rect class="blk" x="1829.4" y="1127.5" width="11.5" height="11.5"/>
<rect class="blk" x="1843.1" y="1127.0" width="11.5" height="11.5"/>
<rect class="blk" x="1856.8" y="1127.5" width="11.5" height="11.5"/>
<rect class="blk" x="1870.4" y="1127.5" width="11.5" height="11.5"/>
<rect class="blk" x="1884.1" y="1129.8" width="11.5" height="11.5"/>
<rect class="blk" x="1897.8" y="1129.8" width="11.5" height="11.5"/>
<rect class="blk" x="1911.4" y="1129.8" width="11.5" height="11.5"/>
<rect class="blk" x="1925.1" y="1130.5" width="11.5" height="11.5"/>
<rect class="blk" x="1938.8" y="1131.2" width="11.5" height="11.5"/>
<rect class="blk" x="1952.4" y="1132.0" width="11.5" height="11.5"/>
<rect class="blk" x="1966.1" y="1132.8" width="11.5" height="11.5"/>
<rect class="blk" x="1979.8" y="1132.8" width="11.5" height="11.5"/>
<rect class="blk" x="1993.4" y="1132.8" width="11.5" height="11.5"/>
<rect class="blk" x="2007.1" y="1132.8" width="11.5" height="11.5"/>
<rect class="blk" x="2020.8" y="1133.5" width="11.5" height="11.5"/>
<rect class="blk" x="2034.4" y="1135.8" width="11.5" height="11.5"/>
<rect class="blk" x="2048.1" y="1136.2" width="11.5" height="11.5"/>
<rect class="blk" x="2061.8" y="1136.3" width="11.5" height="11.5"/>
<rect class="blk" x="2075.4" y="1136.8" width="11.5" height="11.5"/>
<rect class="blk" x="2089.1" y="1137.2" width="11.5" height="11.5"/>
<rect class="blk" x="2102.8" y="1137.3" width="11.5" height="11.5"/>
<rect class="blk" x="2116.4" y="1137.8" width="11.5" height="11.5"/>
<rect class="blk" x="2130.1" y="1140.0" width="11.5" height="11.5"/>
<rect class="blk" x="2143.8" y="1140.0" width="11.5" height="11.5"/>
<rect class="blk" x="2157.4" y="1140.7" width="11.5" height="11.5"/>
<rect class="blk" x="2171.1" y="1141.0" width="11.5" height="11.5"/>
<rect class="blk" x="2184.8" y="1141.7" width="11.5" height="11.5"/>
<rect class="blk" x="2198.4" y="1143.7" width="11.5" height="11.5"/>
<rect class="blk" x="2212.1" y="1144.5" width="11.5" height="11.5"/>
<rect class="blk" x="2225.8" y="1144.2" width="11.5" height="11.5"/>
<rect class="blk" x="2239.4" y="1144.2" width="11.5" height="11.5"/>
<rect class="blk" x="2253.1" y="1145.0" width="11.5" height="11.5"/>
<rect class="blk" x="2266.8" y="1146.0" width="11.5" height="11.5"/>
<rect class="blk" x="2280.4" y="1147.0" width="11.5" height="11.5"/>
<rect class="blk" x="2294.1" y="1147.5" width="11.5" height="11.5"/>
<rect class="blk" x="2307.8" y="1147.5" width="11.5" height="11.5"/>
<rect class="blk" x="2321.4" y="1147.0" width="11.5" height="11.5"/>
<rect class="blk" x="2335.1" y="1148.5" width="11.5" height="11.5"/>
<rect class="blk" x="2348.8" y="1148.5" width="11.5" height="11.5"/>
<rect class="blk" x="2362.4" y="1150.5" width="11.5" height="11.5"/>
<rect class="blk" x="2376.1" y="1149.0" width="11.5" height="11.5"/>
<polyline class="ln" points="331.8,277.1 345.5,427.9 359.2,550.6 372.8,626.4 386.5,686.2 400.2,737.1 413.8,777.9 427.5,816.6 441.2,829.6 454.8,866.6 468.5,865.7 482.2,906.6 495.8,917.3 509.5,933.8 523.2,939.7 536.8,946.1 550.5,957.2 564.2,963.1 577.8,972.8 591.5,980.2 605.2,983.5 618.8,991.3 632.5,997.2 646.2,1003.4 659.8,1009.2 673.5,1013.1 687.2,1016.6 700.8,1022.1 714.5,1028.3 728.2,1032.2 741.8,1036.1 755.5,1039.0 769.2,1045.9 782.8,1050.7 796.5,1053.7 810.2,1058.5 823.8,1059.1 837.5,1062.4 851.2,1065.3 864.8,1069.8 878.5,1071.6 892.2,1077.4 905.8,1081.9 919.5,1080.5 933.2,1086.8 946.8,1091.1 960.5,1093.6 974.2,1100.8 987.8,1101.4 1001.5,1106.3 1015.2,1108.2 1028.8,1103.3 1042.5,1117.0 1056.2,1125.7 1069.8,1122.8 1083.5,1127.1 1097.2,1129.6 1110.8,1137.4 1124.5,1139.8 1138.2,1138.4 1151.8,1138.4 1165.5,1142.7 1179.2,1142.7 1192.8,1145.8 1206.5,1147.7 1220.2,1154.0 1233.8,1154.0 1247.5,1162.2 1261.2,1161.8 1274.8,1161.4 1288.5,1161.8 1302.2,1169.2 1315.8,1178.9 1329.5,1168.2 1343.2,1171.5 1356.8,1185.7 1370.5,1176.0 1384.2,1188.7 1397.8,1178.7 1411.5,1182.2 1425.2,1193.9 1438.8,1194.3 1452.5,1189.4 1466.2,1188.7 1479.8,1189.4 1493.5,1201.1 1507.2,1196.3 1520.8,1197.7 1534.5,1203.5 1548.2,1204.1 1561.8,1205.5 1575.5,1206.4 1589.2,1199.2 1602.8,1201.6 1616.5,1212.9 1630.2,1202.5 1643.8,1210.3 1657.5,1206.4 1671.2,1210.3 1684.8,1217.2 1698.5,1214.2 1712.2,1209.8 1725.8,1212.3 1739.5,1214.6 1753.2,1220.1 1766.8,1225.5 1780.5,1220.5 1794.2,1228.3 1807.8,1231.8 1821.5,1230.8 1835.2,1233.7 1848.8,1233.3 1862.5,1237.0 1876.2,1235.1 1889.8,1239.2 1903.5,1239.2 1917.2,1240.5 1930.8,1243.5 1944.5,1243.7 1958.2,1244.0 1971.8,1244.2 1985.5,1243.8 1999.2,1249.1 2012.8,1251.1 2026.5,1249.1 2040.2,1252.6 2053.8,1255.5 2067.5,1254.0 2081.2,1255.5 2094.8,1256.5 2108.5,1256.9 2122.2,1261.2 2135.8,1263.3 2149.5,1263.7 2163.2,1260.4 2176.8,1264.7 2190.5,1265.1 2204.2,1263.7 2217.8,1266.1 2231.5,1264.7 2245.2,1268.6 2258.8,1258.8 2272.5,1263.1 2286.2,1259.2 2299.8,1269.6 2313.5,1268.2 2327.2,1268.2 2340.8,1266.6 2354.5,1265.7 2368.2,1269.2 2381.8,1267.0"/>
<path class="tri" d="M331.8 268.1l7.4 12.1h-14.8z"/>
<path class="tri" d="M345.5 418.9l7.4 12.1h-14.8z"/>
<path class="tri" d="M359.2 541.7l7.4 12.1h-14.8z"/>
<path class="tri" d="M372.8 617.5l7.4 12.1h-14.8z"/>
<path class="tri" d="M386.5 677.2l7.4 12.1h-14.8z"/>
<path class="tri" d="M400.2 728.2l7.4 12.1h-14.8z"/>
<path class="tri" d="M413.8 769.0l7.4 12.1h-14.8z"/>
<path class="tri" d="M427.5 807.7l7.4 12.1h-14.8z"/>
<path class="tri" d="M441.2 820.7l7.4 12.1h-14.8z"/>
<path class="tri" d="M454.8 857.7l7.4 12.1h-14.8z"/>
<path class="tri" d="M468.5 856.8l7.4 12.1h-14.8z"/>
<path class="tri" d="M482.2 897.7l7.4 12.1h-14.8z"/>
<path class="tri" d="M495.8 908.4l7.4 12.1h-14.8z"/>
<path class="tri" d="M509.5 924.9l7.4 12.1h-14.8z"/>
<path class="tri" d="M523.2 930.8l7.4 12.1h-14.8z"/>
<path class="tri" d="M536.8 937.2l7.4 12.1h-14.8z"/>
<path class="tri" d="M550.5 948.2l7.4 12.1h-14.8z"/>
<path class="tri" d="M564.2 954.2l7.4 12.1h-14.8z"/>
<path class="tri" d="M577.8 963.9l7.4 12.1h-14.8z"/>
<path class="tri" d="M591.5 971.2l7.4 12.1h-14.8z"/>
<path class="tri" d="M605.2 974.6l7.4 12.1h-14.8z"/>
<path class="tri" d="M618.8 982.4l7.4 12.1h-14.8z"/>
<path class="tri" d="M632.5 988.2l7.4 12.1h-14.8z"/>
<path class="tri" d="M646.2 994.5l7.4 12.1h-14.8z"/>
<path class="tri" d="M659.8 1000.2l7.4 12.1h-14.8z"/>
<path class="tri" d="M673.5 1004.2l7.4 12.1h-14.8z"/>
<path class="tri" d="M687.2 1007.7l7.4 12.1h-14.8z"/>
<path class="tri" d="M700.8 1013.2l7.4 12.1h-14.8z"/>
<path class="tri" d="M714.5 1019.4l7.4 12.1h-14.8z"/>
<path class="tri" d="M728.2 1023.2l7.4 12.1h-14.8z"/>
<path class="tri" d="M741.8 1027.2l7.4 12.1h-14.8z"/>
<path class="tri" d="M755.5 1030.0l7.4 12.1h-14.8z"/>
<path class="tri" d="M769.2 1037.0l7.4 12.1h-14.8z"/>
<path class="tri" d="M782.8 1041.8l7.4 12.1h-14.8z"/>
<path class="tri" d="M796.5 1044.8l7.4 12.1h-14.8z"/>
<path class="tri" d="M810.2 1049.5l7.4 12.1h-14.8z"/>
<path class="tri" d="M823.8 1050.2l7.4 12.1h-14.8z"/>
<path class="tri" d="M837.5 1053.5l7.4 12.1h-14.8z"/>
<path class="tri" d="M851.2 1056.4l7.4 12.1h-14.8z"/>
<path class="tri" d="M864.8 1060.9l7.4 12.1h-14.8z"/>
<path class="tri" d="M878.5 1062.7l7.4 12.1h-14.8z"/>
<path class="tri" d="M892.2 1068.5l7.4 12.1h-14.8z"/>
<path class="tri" d="M905.8 1073.0l7.4 12.1h-14.8z"/>
<path class="tri" d="M919.5 1071.5l7.4 12.1h-14.8z"/>
<path class="tri" d="M933.2 1077.9l7.4 12.1h-14.8z"/>
<path class="tri" d="M946.8 1082.2l7.4 12.1h-14.8z"/>
<path class="tri" d="M960.5 1084.7l7.4 12.1h-14.8z"/>
<path class="tri" d="M974.2 1091.9l7.4 12.1h-14.8z"/>
<path class="tri" d="M987.8 1092.5l7.4 12.1h-14.8z"/>
<path class="tri" d="M1001.5 1097.4l7.4 12.1h-14.8z"/>
<path class="tri" d="M1015.2 1099.2l7.4 12.1h-14.8z"/>
<path class="tri" d="M1028.8 1094.4l7.4 12.1h-14.8z"/>
<path class="tri" d="M1042.5 1108.0l7.4 12.1h-14.8z"/>
<path class="tri" d="M1056.2 1116.8l7.4 12.1h-14.8z"/>
<path class="tri" d="M1069.8 1113.9l7.4 12.1h-14.8z"/>
<path class="tri" d="M1083.5 1118.2l7.4 12.1h-14.8z"/>
<path class="tri" d="M1097.2 1120.7l7.4 12.1h-14.8z"/>
<path class="tri" d="M1110.8 1128.5l7.4 12.1h-14.8z"/>
<path class="tri" d="M1124.5 1130.9l7.4 12.1h-14.8z"/>
<path class="tri" d="M1138.2 1129.5l7.4 12.1h-14.8z"/>
<path class="tri" d="M1151.8 1129.5l7.4 12.1h-14.8z"/>
<path class="tri" d="M1165.5 1133.8l7.4 12.1h-14.8z"/>
<path class="tri" d="M1179.2 1133.8l7.4 12.1h-14.8z"/>
<path class="tri" d="M1192.8 1136.9l7.4 12.1h-14.8z"/>
<path class="tri" d="M1206.5 1138.8l7.4 12.1h-14.8z"/>
<path class="tri" d="M1220.2 1145.0l7.4 12.1h-14.8z"/>
<path class="tri" d="M1233.8 1145.0l7.4 12.1h-14.8z"/>
<path class="tri" d="M1247.5 1153.2l7.4 12.1h-14.8z"/>
<path class="tri" d="M1261.2 1152.9l7.4 12.1h-14.8z"/>
<path class="tri" d="M1274.8 1152.5l7.4 12.1h-14.8z"/>
<path class="tri" d="M1288.5 1152.9l7.4 12.1h-14.8z"/>
<path class="tri" d="M1302.2 1160.2l7.4 12.1h-14.8z"/>
<path class="tri" d="M1315.8 1170.0l7.4 12.1h-14.8z"/>
<path class="tri" d="M1329.5 1159.2l7.4 12.1h-14.8z"/>
<path class="tri" d="M1343.2 1162.5l7.4 12.1h-14.8z"/>
<path class="tri" d="M1356.8 1176.8l7.4 12.1h-14.8z"/>
<path class="tri" d="M1370.5 1167.0l7.4 12.1h-14.8z"/>
<path class="tri" d="M1384.2 1179.8l7.4 12.1h-14.8z"/>
<path class="tri" d="M1397.8 1169.8l7.4 12.1h-14.8z"/>
<path class="tri" d="M1411.5 1173.2l7.4 12.1h-14.8z"/>
<path class="tri" d="M1425.2 1185.0l7.4 12.1h-14.8z"/>
<path class="tri" d="M1438.8 1185.4l7.4 12.1h-14.8z"/>
<path class="tri" d="M1452.5 1180.5l7.4 12.1h-14.8z"/>
<path class="tri" d="M1466.2 1179.8l7.4 12.1h-14.8z"/>
<path class="tri" d="M1479.8 1180.5l7.4 12.1h-14.8z"/>
<path class="tri" d="M1493.5 1192.2l7.4 12.1h-14.8z"/>
<path class="tri" d="M1507.2 1187.4l7.4 12.1h-14.8z"/>
<path class="tri" d="M1520.8 1188.8l7.4 12.1h-14.8z"/>
<path class="tri" d="M1534.5 1194.5l7.4 12.1h-14.8z"/>
<path class="tri" d="M1548.2 1195.2l7.4 12.1h-14.8z"/>
<path class="tri" d="M1561.8 1196.5l7.4 12.1h-14.8z"/>
<path class="tri" d="M1575.5 1197.5l7.4 12.1h-14.8z"/>
<path class="tri" d="M1589.2 1190.2l7.4 12.1h-14.8z"/>
<path class="tri" d="M1602.8 1192.7l7.4 12.1h-14.8z"/>
<path class="tri" d="M1616.5 1204.0l7.4 12.1h-14.8z"/>
<path class="tri" d="M1630.2 1193.5l7.4 12.1h-14.8z"/>
<path class="tri" d="M1643.8 1201.4l7.4 12.1h-14.8z"/>
<path class="tri" d="M1657.5 1197.5l7.4 12.1h-14.8z"/>
<path class="tri" d="M1671.2 1201.4l7.4 12.1h-14.8z"/>
<path class="tri" d="M1684.8 1208.2l7.4 12.1h-14.8z"/>
<path class="tri" d="M1698.5 1205.2l7.4 12.1h-14.8z"/>
<path class="tri" d="M1712.2 1200.9l7.4 12.1h-14.8z"/>
<path class="tri" d="M1725.8 1203.4l7.4 12.1h-14.8z"/>
<path class="tri" d="M1739.5 1205.7l7.4 12.1h-14.8z"/>
<path class="tri" d="M1753.2 1211.2l7.4 12.1h-14.8z"/>
<path class="tri" d="M1766.8 1216.5l7.4 12.1h-14.8z"/>
<path class="tri" d="M1780.5 1211.5l7.4 12.1h-14.8z"/>
<path class="tri" d="M1794.2 1219.4l7.4 12.1h-14.8z"/>
<path class="tri" d="M1807.8 1222.9l7.4 12.1h-14.8z"/>
<path class="tri" d="M1821.5 1221.9l7.4 12.1h-14.8z"/>
<path class="tri" d="M1835.2 1224.8l7.4 12.1h-14.8z"/>
<path class="tri" d="M1848.8 1224.4l7.4 12.1h-14.8z"/>
<path class="tri" d="M1862.5 1228.0l7.4 12.1h-14.8z"/>
<path class="tri" d="M1876.2 1226.2l7.4 12.1h-14.8z"/>
<path class="tri" d="M1889.8 1230.2l7.4 12.1h-14.8z"/>
<path class="tri" d="M1903.5 1230.2l7.4 12.1h-14.8z"/>
<path class="tri" d="M1917.2 1231.5l7.4 12.1h-14.8z"/>
<path class="tri" d="M1930.8 1234.5l7.4 12.1h-14.8z"/>
<path class="tri" d="M1944.5 1234.8l7.4 12.1h-14.8z"/>
<path class="tri" d="M1958.2 1235.0l7.4 12.1h-14.8z"/>
<path class="tri" d="M1971.8 1235.2l7.4 12.1h-14.8z"/>
<path class="tri" d="M1985.5 1234.9l7.4 12.1h-14.8z"/>
<path class="tri" d="M1999.2 1240.2l7.4 12.1h-14.8z"/>
<path class="tri" d="M2012.8 1242.2l7.4 12.1h-14.8z"/>
<path class="tri" d="M2026.5 1240.2l7.4 12.1h-14.8z"/>
<path class="tri" d="M2040.2 1243.7l7.4 12.1h-14.8z"/>
<path class="tri" d="M2053.8 1246.5l7.4 12.1h-14.8z"/>
<path class="tri" d="M2067.5 1245.0l7.4 12.1h-14.8z"/>
<path class="tri" d="M2081.2 1246.5l7.4 12.1h-14.8z"/>
<path class="tri" d="M2094.8 1247.5l7.4 12.1h-14.8z"/>
<path class="tri" d="M2108.5 1248.0l7.4 12.1h-14.8z"/>
<path class="tri" d="M2122.2 1252.2l7.4 12.1h-14.8z"/>
<path class="tri" d="M2135.8 1254.4l7.4 12.1h-14.8z"/>
<path class="tri" d="M2149.5 1254.8l7.4 12.1h-14.8z"/>
<path class="tri" d="M2163.2 1251.5l7.4 12.1h-14.8z"/>
<path class="tri" d="M2176.8 1255.8l7.4 12.1h-14.8z"/>
<path class="tri" d="M2190.5 1256.2l7.4 12.1h-14.8z"/>
<path class="tri" d="M2204.2 1254.8l7.4 12.1h-14.8z"/>
<path class="tri" d="M2217.8 1257.2l7.4 12.1h-14.8z"/>
<path class="tri" d="M2231.5 1255.8l7.4 12.1h-14.8z"/>
<path class="tri" d="M2245.2 1259.7l7.4 12.1h-14.8z"/>
<path class="tri" d="M2258.8 1249.9l7.4 12.1h-14.8z"/>
<path class="tri" d="M2272.5 1254.2l7.4 12.1h-14.8z"/>
<path class="tri" d="M2286.2 1250.2l7.4 12.1h-14.8z"/>
<path class="tri" d="M2299.8 1260.7l7.4 12.1h-14.8z"/>
<path class="tri" d="M2313.5 1259.2l7.4 12.1h-14.8z"/>
<path class="tri" d="M2327.2 1259.2l7.4 12.1h-14.8z"/>
<path class="tri" d="M2340.8 1257.7l7.4 12.1h-14.8z"/>
<path class="tri" d="M2354.5 1256.8l7.4 12.1h-14.8z"/>
<path class="tri" d="M2368.2 1260.2l7.4 12.1h-14.8z"/>
<path class="tri" d="M2381.8 1258.0l7.4 12.1h-14.8z"/>
<polyline class="ln" points="331.8,961.9 345.5,1052.5 359.2,1093.8 372.6,1123.0 386.3,1155.7 399.9,1174.2 413.6,1192.1 427.3,1207.9 440.9,1220.0 454.6,1231.7 468.3,1245.3 481.9,1257.6 495.6,1264.4 509.3,1272.0 522.9,1285.8 536.6,1291.5 550.3,1299.5 563.9,1306.1 577.6,1310.6 591.3,1316.4 604.9,1320.3 618.6,1323.2 632.3,1330.4 645.9,1335.5 659.6,1341.3 673.3,1342.7 686.9,1351.5 700.6,1348.9 714.3,1351.5 727.9,1356.0 741.6,1359.7 755.3,1363.8 768.9,1367.1 782.6,1370.4 796.3,1370.0 809.9,1370.4 823.6,1374.9 837.3,1375.8 850.9,1377.8 864.6,1378.8 878.3,1381.1 891.9,1376.4 905.6,1384.0 919.3,1384.2 932.9,1381.7 946.6,1386.9 960.3,1387.5 973.9,1390.1 987.6,1392.4 1001.3,1393.9 1014.9,1393.0 1028.6,1394.7 1042.3,1394.9 1055.9,1394.7 1069.6,1399.2 1083.3,1399.8 1096.9,1400.2 1110.6,1412.8 1124.3,1403.0 1137.9,1405.0 1151.6,1404.0 1165.3,1403.0 1178.9,1403.0 1192.6,1405.0 1206.3,1413.8 1219.9,1409.5 1233.6,1405.6 1247.3,1406.0 1260.9,1406.3 1274.6,1408.9 1288.3,1409.9 1301.9,1409.5 1315.6,1411.8 1329.3,1409.9 1342.9,1412.8 1356.6,1414.1 1370.3,1413.2 1383.9,1415.1 1397.6,1414.3 1411.3,1417.6 1424.9,1413.8 1438.6,1418.0 1452.3,1417.3 1465.9,1414.7 1479.6,1418.0 1493.3,1427.0 1506.9,1427.0 1520.6,1420.5 1534.3,1428.3 1547.9,1420.9 1561.6,1421.1 1575.3,1422.8 1588.9,1421.5 1602.6,1421.5 1616.3,1421.9 1629.9,1430.2 1643.6,1432.6 1657.3,1432.6 1670.9,1433.6 1684.6,1424.8 1698.3,1427.3 1711.9,1434.1 1725.6,1425.8 1739.3,1424.8 1752.9,1427.9 1766.6,1429.7 1780.3,1430.6 1793.9,1430.6 1807.6,1430.6 1821.3,1430.6 1834.9,1431.8 1848.6,1432.6 1862.3,1431.8 1875.9,1428.9 1889.6,1433.6 1903.3,1433.6 1916.9,1436.5 1930.6,1437.1 1944.3,1436.7 1957.9,1436.3 1971.6,1435.9 1985.3,1438.8 1998.9,1435.9 2012.6,1433.9 2026.3,1438.8 2039.9,1440.8 2053.6,1432.6 2067.3,1434.9 2080.9,1436.5 2094.6,1433.4 2108.3,1438.8 2121.9,1437.8 2135.6,1433.6 2149.3,1437.3 2162.9,1436.5 2176.6,1443.7 2190.3,1446.0 2203.9,1446.0 2217.6,1446.0 2231.3,1439.4 2244.9,1439.8 2258.6,1438.8 2272.3,1446.6 2285.9,1438.2 2299.6,1441.2 2313.3,1441.2 2326.9,1442.1 2340.6,1442.3 2354.3,1443.1 2367.9,1441.2 2381.6,1443.3"/>
<circle class="cir" cx="331.8" cy="961.2" r="6.15"/>
<circle class="cir" cx="345.5" cy="1051.8" r="6.15"/>
<circle class="cir" cx="359.2" cy="1093.1" r="6.15"/>
<circle class="cir" cx="372.6" cy="1122.3" r="6.15"/>
<circle class="cir" cx="386.3" cy="1155.0" r="6.15"/>
<circle class="cir" cx="399.9" cy="1173.5" r="6.15"/>
<circle class="cir" cx="413.6" cy="1191.4" r="6.15"/>
<circle class="cir" cx="427.3" cy="1207.2" r="6.15"/>
<circle class="cir" cx="440.9" cy="1219.3" r="6.15"/>
<circle class="cir" cx="454.6" cy="1231.0" r="6.15"/>
<circle class="cir" cx="468.3" cy="1244.6" r="6.15"/>
<circle class="cir" cx="481.9" cy="1256.9" r="6.15"/>
<circle class="cir" cx="495.6" cy="1263.7" r="6.15"/>
<circle class="cir" cx="509.3" cy="1271.3" r="6.15"/>
<circle class="cir" cx="522.9" cy="1285.1" r="6.15"/>
<circle class="cir" cx="536.6" cy="1290.8" r="6.15"/>
<circle class="cir" cx="550.3" cy="1298.8" r="6.15"/>
<circle class="cir" cx="563.9" cy="1305.4" r="6.15"/>
<circle class="cir" cx="577.6" cy="1309.9" r="6.15"/>
<circle class="cir" cx="591.3" cy="1315.7" r="6.15"/>
<circle class="cir" cx="604.9" cy="1319.6" r="6.15"/>
<circle class="cir" cx="618.6" cy="1322.5" r="6.15"/>
<circle class="cir" cx="632.3" cy="1329.7" r="6.15"/>
<circle class="cir" cx="645.9" cy="1334.8" r="6.15"/>
<circle class="cir" cx="659.6" cy="1340.6" r="6.15"/>
<circle class="cir" cx="673.3" cy="1342.0" r="6.15"/>
<circle class="cir" cx="686.9" cy="1350.8" r="6.15"/>
<circle class="cir" cx="700.6" cy="1348.2" r="6.15"/>
<circle class="cir" cx="714.3" cy="1350.8" r="6.15"/>
<circle class="cir" cx="727.9" cy="1355.3" r="6.15"/>
<circle class="cir" cx="741.6" cy="1359.0" r="6.15"/>
<circle class="cir" cx="755.3" cy="1363.1" r="6.15"/>
<circle class="cir" cx="768.9" cy="1366.4" r="6.15"/>
<circle class="cir" cx="782.6" cy="1369.7" r="6.15"/>
<circle class="cir" cx="796.3" cy="1369.3" r="6.15"/>
<circle class="cir" cx="809.9" cy="1369.7" r="6.15"/>
<circle class="cir" cx="823.6" cy="1374.2" r="6.15"/>
<circle class="cir" cx="837.3" cy="1375.1" r="6.15"/>
<circle class="cir" cx="850.9" cy="1377.1" r="6.15"/>
<circle class="cir" cx="864.6" cy="1378.1" r="6.15"/>
<circle class="cir" cx="878.3" cy="1380.4" r="6.15"/>
<circle class="cir" cx="891.9" cy="1375.7" r="6.15"/>
<circle class="cir" cx="905.6" cy="1383.3" r="6.15"/>
<circle class="cir" cx="919.3" cy="1383.5" r="6.15"/>
<circle class="cir" cx="932.9" cy="1381.0" r="6.15"/>
<circle class="cir" cx="946.6" cy="1386.2" r="6.15"/>
<circle class="cir" cx="960.3" cy="1386.8" r="6.15"/>
<circle class="cir" cx="973.9" cy="1389.4" r="6.15"/>
<circle class="cir" cx="987.6" cy="1391.7" r="6.15"/>
<circle class="cir" cx="1001.3" cy="1393.2" r="6.15"/>
<circle class="cir" cx="1014.9" cy="1392.3" r="6.15"/>
<circle class="cir" cx="1028.6" cy="1394.0" r="6.15"/>
<circle class="cir" cx="1042.3" cy="1394.2" r="6.15"/>
<circle class="cir" cx="1055.9" cy="1394.0" r="6.15"/>
<circle class="cir" cx="1069.6" cy="1398.5" r="6.15"/>
<circle class="cir" cx="1083.3" cy="1399.1" r="6.15"/>
<circle class="cir" cx="1096.9" cy="1399.5" r="6.15"/>
<circle class="cir" cx="1110.6" cy="1412.1" r="6.15"/>
<circle class="cir" cx="1124.3" cy="1402.3" r="6.15"/>
<circle class="cir" cx="1137.9" cy="1404.3" r="6.15"/>
<circle class="cir" cx="1151.6" cy="1403.3" r="6.15"/>
<circle class="cir" cx="1165.3" cy="1402.3" r="6.15"/>
<circle class="cir" cx="1178.9" cy="1402.3" r="6.15"/>
<circle class="cir" cx="1192.6" cy="1404.3" r="6.15"/>
<circle class="cir" cx="1206.3" cy="1413.1" r="6.15"/>
<circle class="cir" cx="1219.9" cy="1408.8" r="6.15"/>
<circle class="cir" cx="1233.6" cy="1404.9" r="6.15"/>
<circle class="cir" cx="1247.3" cy="1405.3" r="6.15"/>
<circle class="cir" cx="1260.9" cy="1405.6" r="6.15"/>
<circle class="cir" cx="1274.6" cy="1408.2" r="6.15"/>
<circle class="cir" cx="1288.3" cy="1409.2" r="6.15"/>
<circle class="cir" cx="1301.9" cy="1408.8" r="6.15"/>
<circle class="cir" cx="1315.6" cy="1411.1" r="6.15"/>
<circle class="cir" cx="1329.3" cy="1409.2" r="6.15"/>
<circle class="cir" cx="1342.9" cy="1412.1" r="6.15"/>
<circle class="cir" cx="1356.6" cy="1413.4" r="6.15"/>
<circle class="cir" cx="1370.3" cy="1412.5" r="6.15"/>
<circle class="cir" cx="1383.9" cy="1414.4" r="6.15"/>
<circle class="cir" cx="1397.6" cy="1413.6" r="6.15"/>
<circle class="cir" cx="1411.3" cy="1416.9" r="6.15"/>
<circle class="cir" cx="1424.9" cy="1413.1" r="6.15"/>
<circle class="cir" cx="1438.6" cy="1417.3" r="6.15"/>
<circle class="cir" cx="1452.3" cy="1416.6" r="6.15"/>
<circle class="cir" cx="1465.9" cy="1414.0" r="6.15"/>
<circle class="cir" cx="1479.6" cy="1417.3" r="6.15"/>
<circle class="cir" cx="1493.3" cy="1426.3" r="6.15"/>
<circle class="cir" cx="1506.9" cy="1426.3" r="6.15"/>
<circle class="cir" cx="1520.6" cy="1419.8" r="6.15"/>
<circle class="cir" cx="1534.3" cy="1427.6" r="6.15"/>
<circle class="cir" cx="1547.9" cy="1420.2" r="6.15"/>
<circle class="cir" cx="1561.6" cy="1420.4" r="6.15"/>
<circle class="cir" cx="1575.3" cy="1422.1" r="6.15"/>
<circle class="cir" cx="1588.9" cy="1420.8" r="6.15"/>
<circle class="cir" cx="1602.6" cy="1420.8" r="6.15"/>
<circle class="cir" cx="1616.3" cy="1421.2" r="6.15"/>
<circle class="cir" cx="1629.9" cy="1429.5" r="6.15"/>
<circle class="cir" cx="1643.6" cy="1431.9" r="6.15"/>
<circle class="cir" cx="1657.3" cy="1431.9" r="6.15"/>
<circle class="cir" cx="1670.9" cy="1432.9" r="6.15"/>
<circle class="cir" cx="1684.6" cy="1424.1" r="6.15"/>
<circle class="cir" cx="1698.3" cy="1426.6" r="6.15"/>
<circle class="cir" cx="1711.9" cy="1433.4" r="6.15"/>
<circle class="cir" cx="1725.6" cy="1425.1" r="6.15"/>
<circle class="cir" cx="1739.3" cy="1424.1" r="6.15"/>
<circle class="cir" cx="1752.9" cy="1427.2" r="6.15"/>
<circle class="cir" cx="1766.6" cy="1429.0" r="6.15"/>
<circle class="cir" cx="1780.3" cy="1429.9" r="6.15"/>
<circle class="cir" cx="1793.9" cy="1429.9" r="6.15"/>
<circle class="cir" cx="1807.6" cy="1429.9" r="6.15"/>
<circle class="cir" cx="1821.3" cy="1429.9" r="6.15"/>
<circle class="cir" cx="1834.9" cy="1431.1" r="6.15"/>
<circle class="cir" cx="1848.6" cy="1431.9" r="6.15"/>
<circle class="cir" cx="1862.3" cy="1431.1" r="6.15"/>
<circle class="cir" cx="1875.9" cy="1428.2" r="6.15"/>
<circle class="cir" cx="1889.6" cy="1432.9" r="6.15"/>
<circle class="cir" cx="1903.3" cy="1432.9" r="6.15"/>
<circle class="cir" cx="1916.9" cy="1435.8" r="6.15"/>
<circle class="cir" cx="1930.6" cy="1436.4" r="6.15"/>
<circle class="cir" cx="1944.3" cy="1436.0" r="6.15"/>
<circle class="cir" cx="1957.9" cy="1435.6" r="6.15"/>
<circle class="cir" cx="1971.6" cy="1435.2" r="6.15"/>
<circle class="cir" cx="1985.3" cy="1438.1" r="6.15"/>
<circle class="cir" cx="1998.9" cy="1435.2" r="6.15"/>
<circle class="cir" cx="2012.6" cy="1433.2" r="6.15"/>
<circle class="cir" cx="2026.3" cy="1438.1" r="6.15"/>
<circle class="cir" cx="2039.9" cy="1440.1" r="6.15"/>
<circle class="cir" cx="2053.6" cy="1431.9" r="6.15"/>
<circle class="cir" cx="2067.3" cy="1434.2" r="6.15"/>
<circle class="cir" cx="2080.9" cy="1435.8" r="6.15"/>
<circle class="cir" cx="2094.6" cy="1432.7" r="6.15"/>
<circle class="cir" cx="2108.3" cy="1438.1" r="6.15"/>
<circle class="cir" cx="2121.9" cy="1437.1" r="6.15"/>
<circle class="cir" cx="2135.6" cy="1432.9" r="6.15"/>
<circle class="cir" cx="2149.3" cy="1436.6" r="6.15"/>
<circle class="cir" cx="2162.9" cy="1435.8" r="6.15"/>
<circle class="cir" cx="2176.6" cy="1443.0" r="6.15"/>
<circle class="cir" cx="2190.3" cy="1445.3" r="6.15"/>
<circle class="cir" cx="2203.9" cy="1445.3" r="6.15"/>
<circle class="cir" cx="2217.6" cy="1445.3" r="6.15"/>
<circle class="cir" cx="2231.3" cy="1438.7" r="6.15"/>
<circle class="cir" cx="2244.9" cy="1439.1" r="6.15"/>
<circle class="cir" cx="2258.6" cy="1438.1" r="6.15"/>
<circle class="cir" cx="2272.3" cy="1445.9" r="6.15"/>
<circle class="cir" cx="2285.9" cy="1437.5" r="6.15"/>
<circle class="cir" cx="2299.6" cy="1440.5" r="6.15"/>
<circle class="cir" cx="2313.3" cy="1440.5" r="6.15"/>
<circle class="cir" cx="2326.9" cy="1441.4" r="6.15"/>
<circle class="cir" cx="2340.6" cy="1441.6" r="6.15"/>
<circle class="cir" cx="2354.3" cy="1442.4" r="6.15"/>
<circle class="cir" cx="2367.9" cy="1440.5" r="6.15"/>
<circle class="cir" cx="2381.6" cy="1442.6" r="6.15"/>
</g>
</svg></body></html>
